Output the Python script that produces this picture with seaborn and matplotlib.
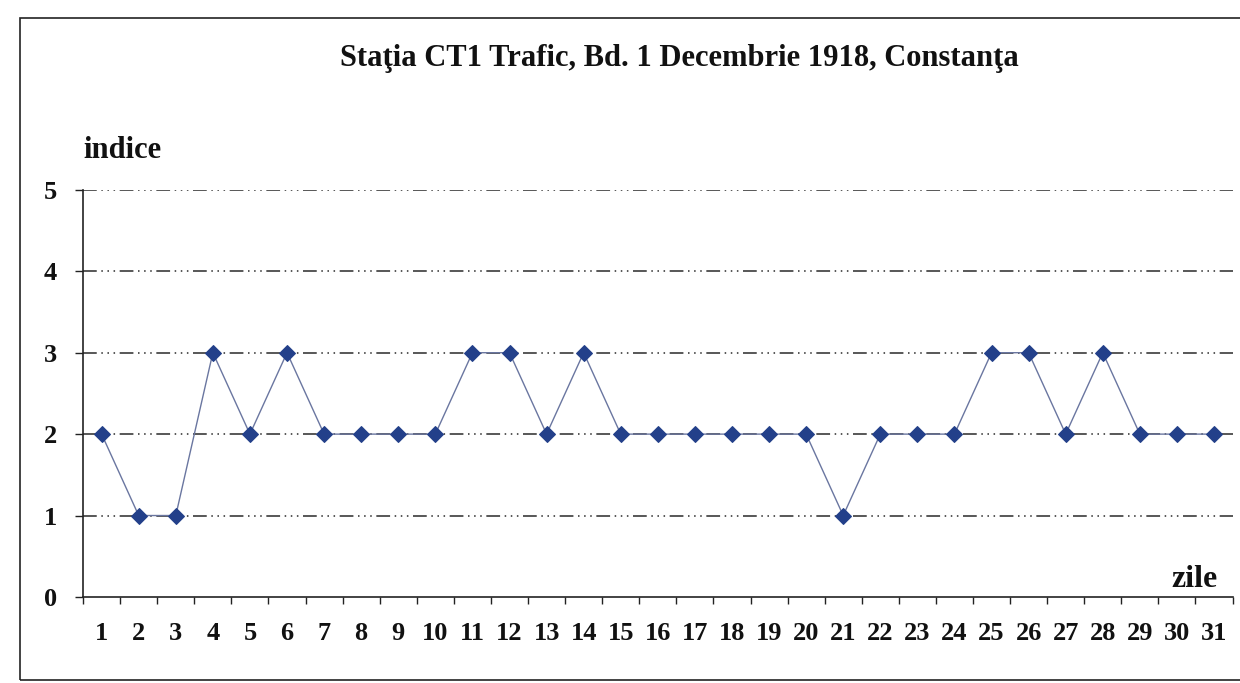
import matplotlib
matplotlib.use('Agg')
import matplotlib.pyplot as plt
import matplotlib.patches as patches
import seaborn as sns
import pandas as pd

# daily index values, Statia CT1 Trafic
zile = list(range(1, 32))
indice = [2, 1, 1, 3, 2, 3, 2, 2, 2, 2, 3, 3, 2, 3, 2, 2,
          2, 2, 2, 2, 1, 2, 2, 2, 3, 3, 2, 3, 2, 2, 2]
y_ticks = [0, 1, 2, 3, 4, 5]

df = pd.DataFrame({'zile': zile, 'indice': indice})

sns.set_theme(style='white')
plt.rcParams['font.family'] = ['Liberation Serif', 'DejaVu Serif']
plt.rcParams['font.weight'] = 'bold'
plt.rcParams['text.color'] = '#111111'
plt.rcParams['xtick.color'] = '#111111'
plt.rcParams['ytick.color'] = '#111111'

fig = plt.figure(figsize=(12.4, 6.83), dpi=100)
ax = fig.add_axes([0.067, 0.126, 0.927, 0.596])

# outer frame of the chart
fig.patches.append(patches.Rectangle((0.016, 0.004), 1.2, 0.97, transform=fig.transFigure,
                                     fill=False, edgecolor='#222222', linewidth=1.2))

# dash-dot-dot gridlines
for v in y_ticks[1:]:
    ax.axhline(v, color='#2a2a2a', linewidth=1.1, linestyle=(0, (9, 3, 1, 3, 1, 3, 1, 3)), zorder=1)

sns.lineplot(data=df, x='zile', y='indice', ax=ax, color='#6a76a0', linewidth=1,
             marker='D', markersize=8.5, markerfacecolor='#23408a', markeredgecolor='#23408a', zorder=3)

ax.set_xlim(0.5, 31.5)
ax.set_ylim(0, 5)
ax.set_xticks([d - 0.5 for d in zile] + [31.5])
ax.set_xticklabels([])
ax.set_xticks(zile, minor=True)
ax.set_xticklabels([str(d) for d in zile], minor=True, fontsize=19, fontweight='bold')
ax.set_yticks(y_ticks)
ax.set_yticklabels([str(v) for v in y_ticks], fontsize=19, fontweight='bold')
ax.tick_params(axis='x', which='major', direction='out', length=5, width=1, color='#222222', bottom=True)
ax.tick_params(axis='x', which='minor', length=0, pad=18)
ax.tick_params(axis='y', direction='out', length=6, width=1, color='#222222', left=True, pad=13)

for s in ['top', 'right']:
    ax.spines[s].set_visible(False)
for s in ['left', 'bottom']:
    ax.spines[s].set_color('#222222')
    ax.spines[s].set_linewidth(1.2)

ax.set_xlabel('')
ax.set_ylabel('')
fig.text(0.067, 0.78, 'indice', fontsize=22, fontweight='bold', ha='left', va='center')
fig.text(0.982, 0.152, 'zile', fontsize=23, fontweight='bold', ha='right', va='center')
fig.text(0.548, 0.915, 'Staţia CT1 Trafic, Bd. 1 Decembrie 1918, Constanţa',
         fontsize=22, fontweight='bold', ha='center', va='center')

fig.savefig('out.png', dpi=100)
